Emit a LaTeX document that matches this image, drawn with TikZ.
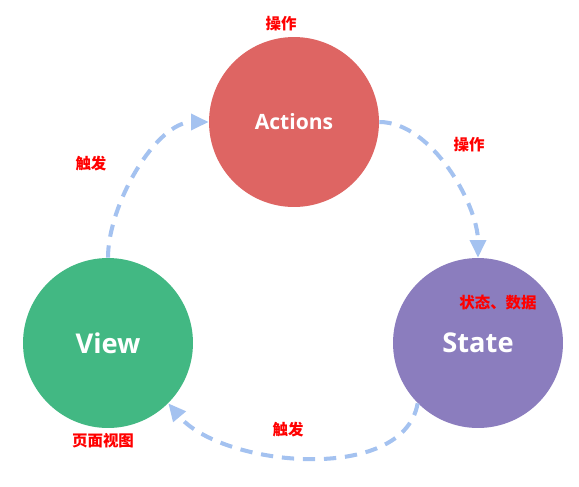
\documentclass[tikz,border=0pt]{standalone}
\usepackage{fontspec}
\setsansfont{Open Sans}
\newfontfamily\cjk{Noto Sans CJK SC}
\usepackage{tikz}
\usetikzlibrary{arrows.meta,positioning}
\definecolor{vueactions}{RGB}{222,101,99}
\definecolor{vuestate}{RGB}{139,125,190}
\definecolor{vueview}{RGB}{66,184,131}
\definecolor{vueflow}{RGB}{164,194,240}

\begin{document}
\begin{tikzpicture}[x=0.02cm,y=-0.02cm,
  part/.style={circle,minimum size=3.4cm,inner sep=0pt,text=white,font=\sffamily\bfseries},
  flow/.style={-{Triangle[length=10pt,width=9pt]},vueflow,line width=2.3pt,dash pattern=on 7pt off 5pt},
  note/.style={font=\cjk\bfseries\fontsize{8.8pt}{10pt}\selectfont,text=red,inner sep=0pt}]
\useasboundingbox (0,0) rectangle (579,487);
% Circles
\node[part,fill=vueactions,font=\sffamily\bfseries\fontsize{12pt}{14pt}\selectfont] (actions) at (294,122) {Actions};
\node[part,fill=vuestate,font=\sffamily\bfseries\fontsize{15.5pt}{18pt}\selectfont] (state) at (478,343) {State};
\node[part,fill=vueview,font=\sffamily\bfseries\fontsize{15.5pt}{18pt}\selectfont] (view) at (108,343) {View};
% Flow
\draw[flow] (view.north) to[out=90,in=180,looseness=0.8] (actions.west);
\draw[flow] (actions.east) to[out=0,in=90,looseness=0.8] (state.north);
\draw[flow] (state.south west) to[out=-100,in=-50,looseness=0.85] (view.south east);
% Notes
\node[note] (opa) at (281,24) {操作};
\node[note] (opb) at (469,145) {操作};
\node[note] (trga) at (91,164) {触发};
\node[note] (data) at (498,303) {状态、数据};
\node[note] (page) at (103,441) {页面视图};
\node[note] (trgb) at (288,430) {触发};
\end{tikzpicture}
\end{document}
